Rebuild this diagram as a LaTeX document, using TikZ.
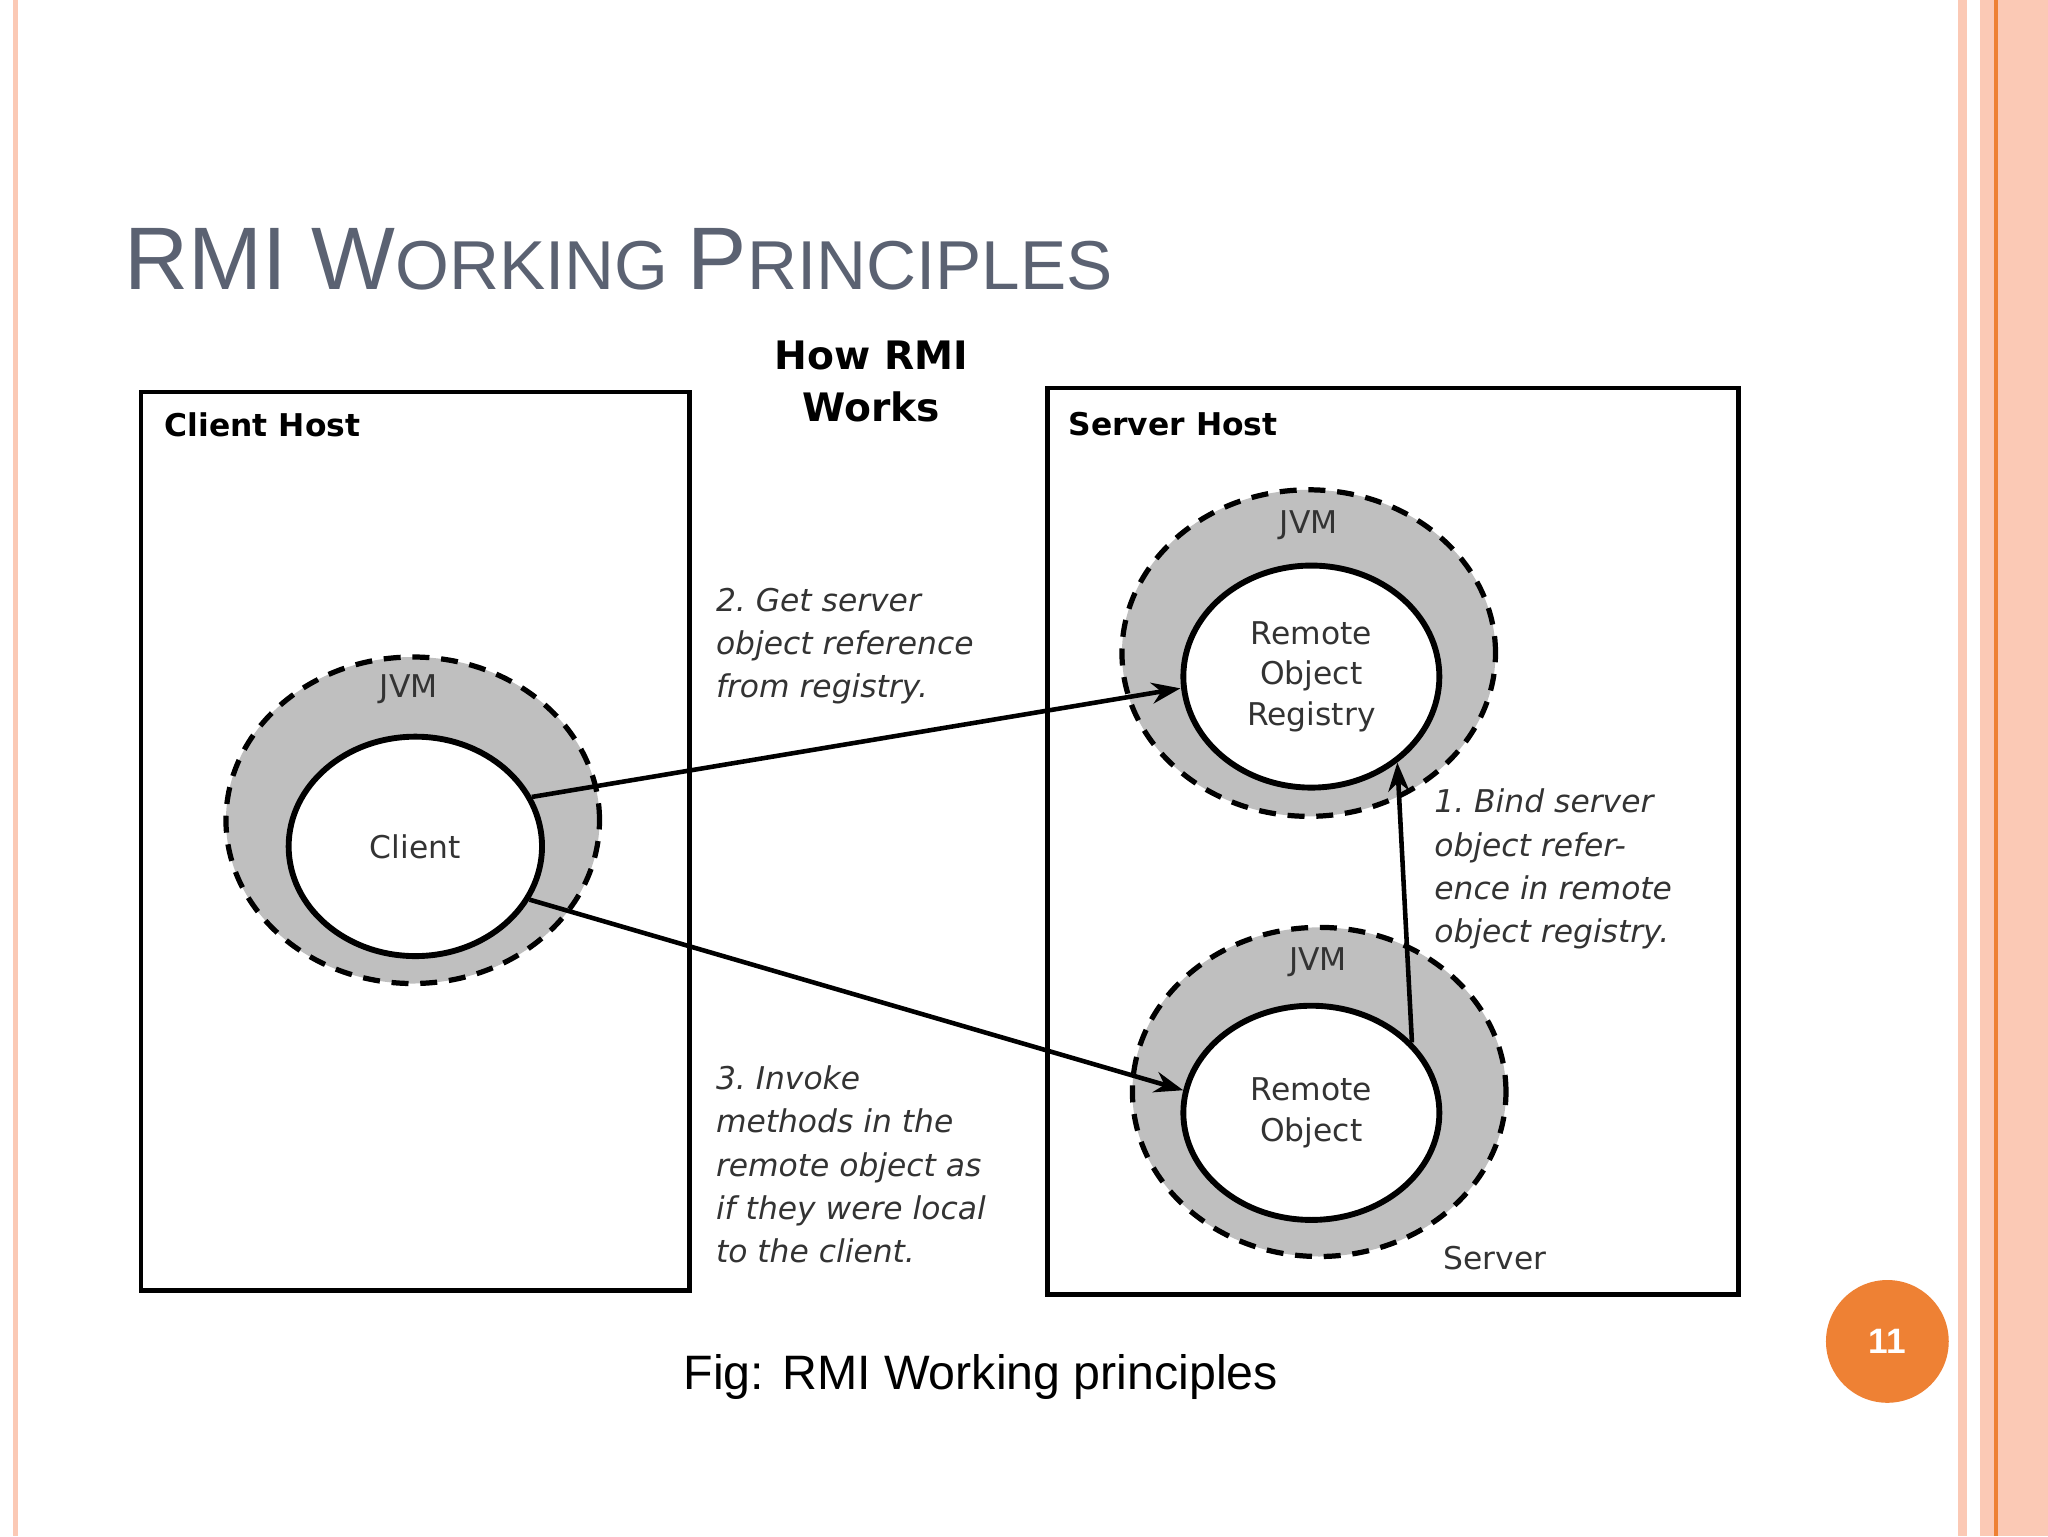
\documentclass[tikz,border=0pt]{standalone}
\usepackage{fontspec}
\setmainfont{Liberation Sans}
\newfontfamily\djv{DejaVu Sans}
\usetikzlibrary{shapes.geometric,arrows.meta}
\definecolor{pinkA}{HTML}{FBC9B5}
\definecolor{orangeA}{HTML}{EE8134}
\definecolor{titleC}{HTML}{5B6272}
\definecolor{txtC}{HTML}{333333}
\begin{document}
\begin{tikzpicture}[x=1pt,y=-1pt,
  box/.style={draw=black,line width=3.5pt},
  jvm/.style={ellipse,draw=black,fill=gray!50,line width=4pt,dash pattern=on 13pt off 9pt,inner sep=0},
  inner/.style={ellipse,draw=black,fill=white,line width=4.5pt,inner sep=0,align=center,text=txtC,font=\djv\fontsize{24}{31}\selectfont},
  lbl/.style={text=txtC,font=\djv\fontsize{24}{33}\selectfont},
  note/.style={anchor=north west,align=left,text=txtC,font=\djv\itshape\fontsize{24}{33}\selectfont,inner sep=0},
  hdr/.style={anchor=west,font=\djv\bfseries\fontsize{24}{30}\selectfont,inner sep=0},
  arr/.style={line width=3.5pt,-{Stealth[length=22pt,width=16pt]}}]
\useasboundingbox (0,0) rectangle (1568,1176);
\fill[white] (0,0) rectangle (1568,1176);
% side stripes
\fill[pinkA] (10,0) rectangle (14,1176);
\fill[pinkA] (1499,0) rectangle (1506,1176);
\fill[pinkA] (1516,0) rectangle (1568,1176);
\fill[orangeA] (1527,0) rectangle (1529.5,1176);
% title
\node[anchor=base west,inner sep=0,text=titleC] (title) at (95,222)
 {\fontsize{68}{70}\selectfont RMI W\fontsize{53}{60}\selectfont ORKING \fontsize{68}{70}\selectfont P\fontsize{53}{60}\selectfont RINCIPLES};
\node[align=center,font=\djv\bfseries\fontsize{30}{40}\selectfont,inner sep=0] (how) at (667,292) {How RMI\\Works};
% boxes
\draw[box] (108,300) rectangle (528,988);
\draw[box] (802,297) rectangle (1331,991);
\node[hdr] (ch) at (126,325) {Client Host};
\node[hdr] (sh) at (818,325) {Server Host};
% client
\node[jvm,minimum width=286pt,minimum height=250pt] (cj) at (316,628) {};
\node[inner,minimum width=194pt,minimum height=168pt] (cl) at (318,648) {Client};
\node[lbl] (cjl) at (313,528) {JVM};
% registry
\node[jvm,minimum width=286pt,minimum height=250pt] (rj) at (1002,500) {};
\node[inner,minimum width=196pt,minimum height=170pt] (reg) at (1004,518) {Remote\\Object\\Registry};
\node[lbl] (rjl) at (1002,402) {JVM};
% remote object
\node[jvm,minimum width=286pt,minimum height=252pt] (oj) at (1010,836) {};
\node[inner,minimum width=196pt,minimum height=164pt] (ro) at (1004,852) {Remote\\Object};
\node[lbl] (ojl) at (1009,737) {JVM};
% arrows
\draw[arr] (cl.23) -- (reg.west|-0,527);
\draw[arr] (cl.-25) -- (ro.170);
\draw[arr] (ro.35) -- (reg.-45);
% notes
\node[note] (n2) at (548,450) {2.~Get server\\object reference\\from registry.};
\node[note] (n1) at (1098,604) {1.~Bind server\\object refer-\\ence in remote\\object registry.};
\node[note] (n3) at (548,816) {3.~Invoke\\methods in the\\remote object as\\if they were local\\to the client.};
\node[lbl,anchor=west,inner sep=0] (srv) at (1105,963) {Server};
% caption
\node[font=\fontsize{37}{40}\selectfont] (cap) at (751,1054) {Fig: RMI Working principles};
\node[circle,fill=orangeA,minimum size=94pt,text=white,font=\bfseries\fontsize{27}{30}\selectfont] (pg) at (1445,1027) {11};
\end{tikzpicture}
\end{document}
